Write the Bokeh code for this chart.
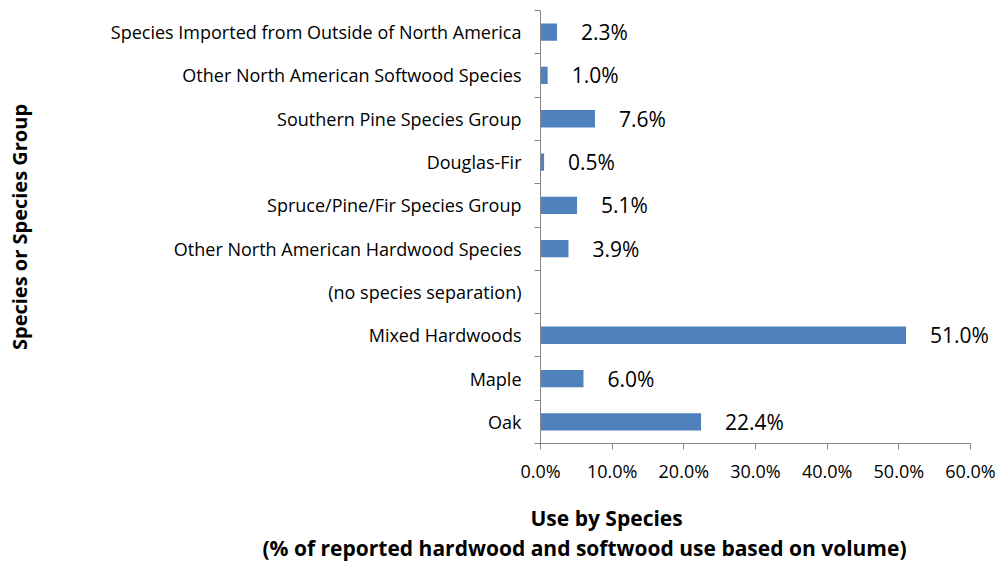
import numpy as np
from bokeh.plotting import figure
from bokeh.models import ColumnDataSource, FixedTicker, PrintfTickFormatter, Range1d, Title
from bokeh.core.properties import value
from bokeh.embed import file_html
from bokeh.resources import INLINE

# Data (bottom to top)
categories = [
    "Oak",
    "Maple",
    "Mixed Hardwoods",
    "(no species separation)",
    "Other North American Hardwood Species",
    "Spruce/Pine/Fir Species Group",
    "Douglas-Fir",
    "Southern Pine Species Group",
    "Other North American Softwood Species",
    "Species Imported from Outside of North America",
]
shares = [22.4, 6.0, 51.0, None, 3.9, 5.1, 0.5, 7.6, 1.0, 2.3]
x_ticks = [0, 10, 20, 30, 40, 50, 60]
x_title = ["Use by Species", "(% of reported hardwood and softwood use based on volume)"]
y_title = "Species or Species Group"

FONT = "Open Sans"
BAR = "#4F81BD"
AXIS = "#868686"

# layout (pixels)
W, H = 1000, 565
LEFT, TOP, BOTTOM = 540, 10, 122
AXIS_W = 430                      # pixel length of the 0..60 axis
FRAME_W = W - LEFT                # frame extends to the right edge so value labels are not clipped

n = len(categories)
pos = np.arange(n) + 0.5
vals = np.array([np.nan if v is None else v for v in shares])
has = ~np.isnan(vals)

bars = ColumnDataSource(dict(y=pos[has], v=vals[has]))
labels = ColumnDataSource(dict(y=pos[has], v=vals[has], t=["%.1f%%" % v for v in vals[has]]))

x_end = x_ticks[-1] * FRAME_W / AXIS_W
p = figure(width=W, height=H, output_backend="svg", toolbar_location=None,
           x_range=Range1d(x_ticks[0], x_end), y_range=Range1d(0, n),
           min_border_left=LEFT, min_border_right=0, min_border_top=TOP, min_border_bottom=BOTTOM)
p.outline_line_color = None
p.xgrid.visible = False
p.ygrid.visible = False

p.hbar(y="y", right="v", left=0, height=0.4, source=bars, fill_color=BAR, line_color=None)
p.text(x="v", y="y", text="t", source=labels, x_offset=24, text_baseline="middle",
       text_align="left", text_font=value(FONT), text_font_size="21px", text_color="black")

# Y axis: labels at centres, tick marks at category boundaries
ya = p.yaxis[0]
ya.ticker = FixedTicker(ticks=list(pos), minor_ticks=list(range(n + 1)))
ya.major_label_overrides = {float(y): c for y, c in zip(pos, categories)}
ya.major_tick_out = 0
ya.major_tick_in = 0
ya.minor_tick_out = 6
ya.minor_tick_in = 0
ya.minor_tick_line_color = AXIS
ya.axis_line_color = AXIS
ya.major_label_standoff = 13
ya.major_label_text_font = FONT
ya.major_label_text_font_size = "18px"
ya.major_label_text_color = "black"
ya.axis_label = y_title
ya.axis_label_text_font = FONT
ya.axis_label_text_font_style = "bold"
ya.axis_label_text_font_size = "20px"
ya.axis_label_text_color = "black"
ya.axis_label_standoff = 75

xa = p.xaxis[0]
xa.bounds = (x_ticks[0], x_ticks[-1])
xa.ticker = FixedTicker(ticks=x_ticks, minor_ticks=[])
xa.formatter = PrintfTickFormatter(format="%.1f%%")
xa.major_tick_out = 6
xa.major_tick_in = 0
xa.major_tick_line_color = AXIS
xa.axis_line_color = AXIS
xa.major_label_standoff = 9
xa.major_label_text_font = FONT
xa.major_label_text_font_size = "18px"
xa.major_label_text_color = "black"
# blank axis label used only as spacing above the two-line title
xa.axis_label = " "
xa.axis_label_text_font_size = "10px"
xa.axis_label_standoff = 2

offsets = [-10, -278]
for t, off in zip(x_title, offsets):
    p.add_layout(Title(text=t, align="left", offset=off, text_font=FONT, text_font_style="bold",
                       text_font_size="21px", text_color="black", standoff=0), "below")

open("out.html", "w").write(file_html(p, INLINE))
